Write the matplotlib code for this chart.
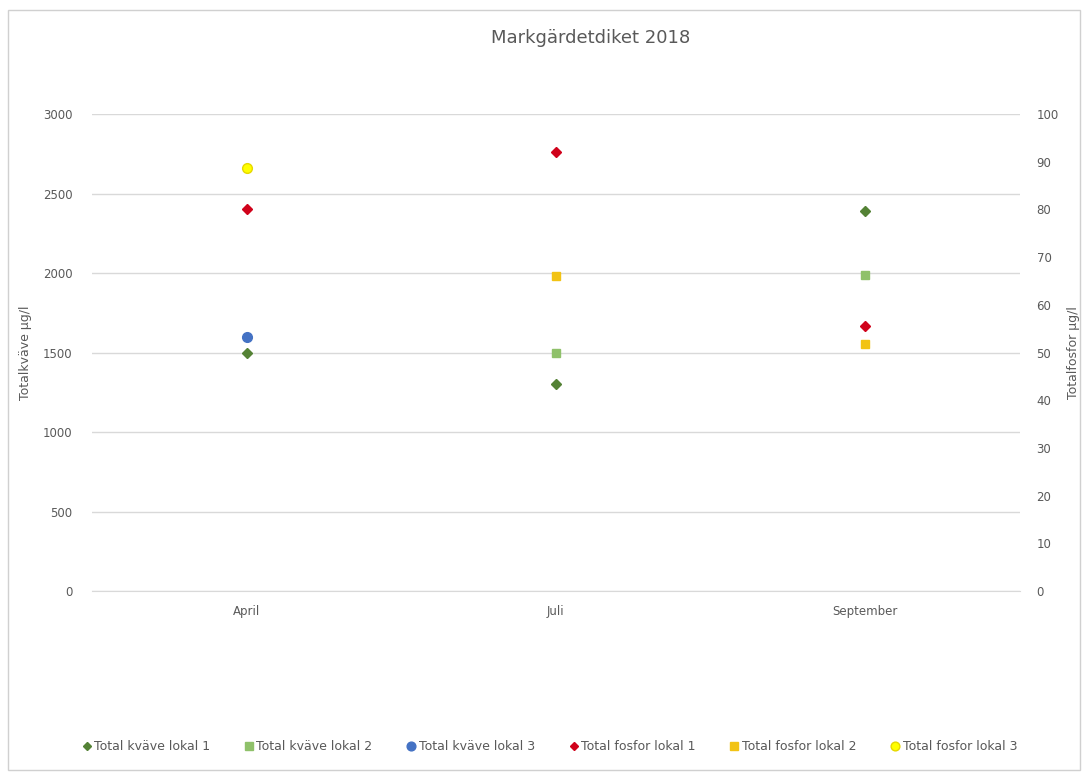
import matplotlib.pyplot as plt
from matplotlib.patches import Rectangle

months = ['April', 'Juli', 'September']

# Totalkväve (left axis, µg/l); None = no sample
kvave_lokal1 = [1500, 1300, 2390]
kvave_lokal2 = [None, 1500, 1990]
kvave_lokal3 = [1600, None, None]

# Totalfosfor (right axis, µg/l)
fosfor_lokal1 = [80, 92, 55.6]
fosfor_lokal2 = [None, 66, 51.7]
fosfor_lokal3 = [88.7, None, None]

txt = '#595959'
grid = '#d9d9d9'

fig = plt.figure(figsize=(10.89, 7.82), dpi=100)
fig.patches.append(Rectangle((0.007, 0.015), 0.985, 0.972, transform=fig.transFigure,
                             fill=False, edgecolor='#d0d0d0', lw=1))
ax = fig.add_axes([0.0845, 0.2442, 0.852, 0.61])
ax2 = ax.twinx()

def pts(vals):
    xs = [i for i, v in enumerate(vals) if v is not None]
    ys = [v for v in vals if v is not None]
    return xs, ys

handles = []
series = [
    (ax, kvave_lokal1, 'D', '#548235', '#548235', 5, 'Total kväve lokal 1'),
    (ax, kvave_lokal2, 's', '#8fc16a', '#8fc16a', 6, 'Total kväve lokal 2'),
    (ax, kvave_lokal3, 'o', '#4472c4', '#4472c4', 7, 'Total kväve lokal 3'),
    (ax2, fosfor_lokal1, 'D', '#d0021b', '#d0021b', 5, 'Total fosfor lokal 1'),
    (ax2, fosfor_lokal2, 's', '#f2c314', '#f2c314', 6, 'Total fosfor lokal 2'),
    (ax2, fosfor_lokal3, 'o', '#ffff00', '#e6d800', 7, 'Total fosfor lokal 3'),
]
for a, vals, m, fc, ec, ms, lab in series:
    xs, ys = pts(vals)
    h, = a.plot(xs, ys, linestyle='none', marker=m, markersize=ms,
                markerfacecolor=fc, markeredgecolor=ec, label=lab, zorder=3)
    handles.append(h)

ax.set_xlim(-0.5, 2.5)
ax.set_ylim(0, 3000)
ax2.set_ylim(0, 100)
ax.set_xticks(range(len(months)))
ax.set_xticklabels(months)
ax.set_yticks(range(0, 3001, 500))
ax2.set_yticks(range(0, 101, 10))
ax.yaxis.grid(True, color=grid, lw=1)
ax.set_axisbelow(True)

for a in (ax, ax2):
    for s in a.spines.values():
        s.set_visible(False)
    a.tick_params(length=0, colors=txt, labelsize=8.5)
ax.spines['bottom'].set_visible(True)
ax.spines['bottom'].set_color(grid)
ax.tick_params(axis='y', pad=14)
ax2.tick_params(axis='y', pad=12)
ax.tick_params(axis='x', pad=10)

ax.set_ylabel('Totalkväve µg/l', color=txt, fontsize=9, labelpad=8)
ax2.set_ylabel('Totalfosfor µg/l', color=txt, fontsize=9, labelpad=6)

fig.text(0.542, 0.951, 'Markgärdetdiket 2018', ha='center', va='center', fontsize=13, color=txt)

fig.legend(handles=handles, loc='center', bbox_to_anchor=(0.505, 0.045), ncol=6, frameon=False,
           fontsize=9, labelcolor=txt, handlelength=0.6, handletextpad=0.3, columnspacing=2.8,
           markerscale=0.9)

fig.savefig('out.png', dpi=100)
